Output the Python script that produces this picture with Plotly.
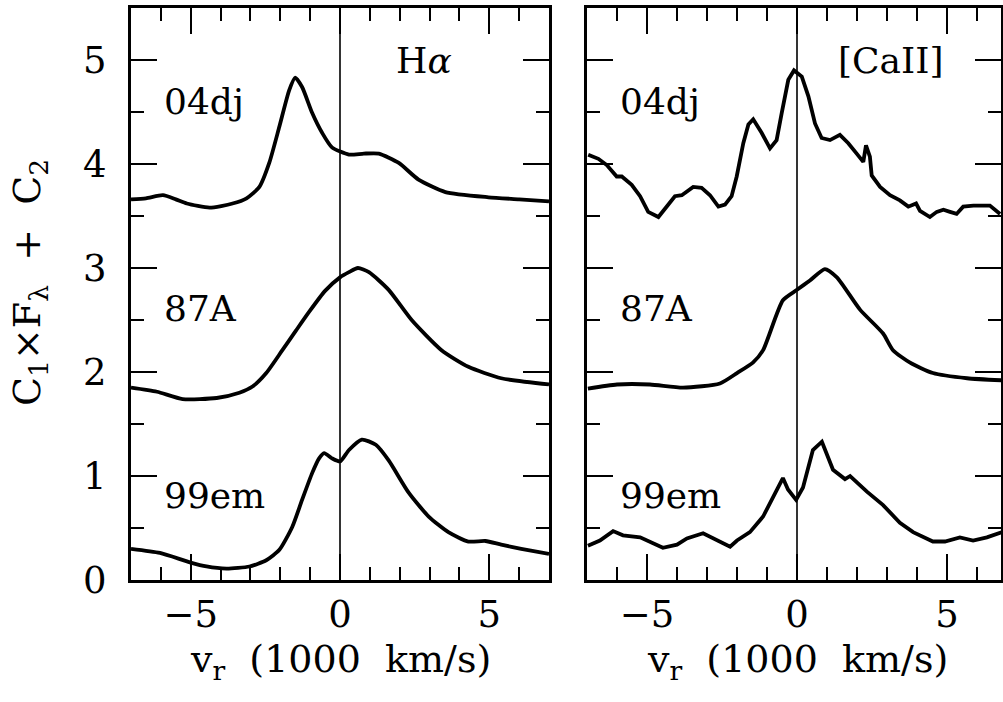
import plotly.graph_objects as go

# ---------------- data ----------------
ha_v_04dj = [-7, -6.5, -5.93, -5.5, -5.13, -4.37, -3.6, -3.13, -2.7, -2.37, -2.03, -1.7, -1.5,
             -1.27, -0.93, -0.6, -0.27, 0.3, 0.8, 1.3, 1.97, 2.63, 3.53, 4.97, 6.0, 7.0]
ha_f_04dj = [3.66, 3.67, 3.70, 3.66, 3.62, 3.58, 3.62, 3.67, 3.78, 4.01, 4.36, 4.71, 4.83,
             4.74, 4.49, 4.30, 4.16, 4.09, 4.10, 4.10, 4.01, 3.85, 3.73, 3.68, 3.66, 3.64]

ha_v_87A = [-7, -6.13, -5.27, -4.13, -3.37, -2.93, -2.47, -1.93, -1.47, -1.03, -0.5, 0.0,
            0.3, 0.6, 0.97, 1.63, 2.4, 3.4, 4.3, 5.4, 7.0]
ha_f_87A = [1.85, 1.81, 1.74, 1.75, 1.80, 1.86, 1.99, 2.21, 2.40, 2.58, 2.78, 2.91,
            2.96, 3.00, 2.96, 2.79, 2.50, 2.21, 2.05, 1.94, 1.88]

ha_v_99em = [-7, -6.03, -5.03, -4.47, -3.8, -3.03, -2.47, -2.03, -1.6, -1.27, -0.93, -0.7,
             -0.53, -0.27, 0.0, 0.3, 0.73, 1.2, 1.63, 2.3, 2.97, 3.63, 4.3, 4.87, 5.4, 6.07, 7.0]
ha_f_99em = [0.30, 0.26, 0.17, 0.13, 0.11, 0.13, 0.19, 0.29, 0.51, 0.77, 1.03, 1.17,
             1.22, 1.17, 1.14, 1.25, 1.35, 1.30, 1.15, 0.84, 0.61, 0.46, 0.37, 0.375, 0.34, 0.30, 0.25]

ca_v_04dj = [-6.96, -6.62, -6.34, -6.01, -5.84, -5.51, -5.23, -4.96, -4.62, -4.34, -4.07, -3.84,
             -3.68, -3.46, -3.18, -2.9, -2.62, -2.4, -2.18, -2.01, -1.79, -1.62, -1.46, -1.18,
             -0.9, -0.68, -0.51, -0.29, -0.1, 0.16, 0.38, 0.6, 0.82, 1.1, 1.43, 1.71, 1.99,
             2.21, 2.3, 2.43, 2.49, 2.77, 3.1, 3.43, 3.71, 3.97, 4.1, 4.43, 4.66, 4.88, 5.1,
             5.32, 5.54, 5.88, 6.43, 6.77]
ca_f_04dj = [4.09, 4.05, 3.99, 3.88, 3.88, 3.80, 3.69, 3.54, 3.49, 3.59, 3.69, 3.70,
             3.73, 3.78, 3.77, 3.70, 3.59, 3.61, 3.69, 3.88, 4.20, 4.38, 4.43, 4.30,
             4.15, 4.23, 4.49, 4.81, 4.90, 4.84, 4.65, 4.39, 4.25, 4.23, 4.28, 4.20, 4.10,
             4.02, 4.18, 4.07, 3.89, 3.78, 3.70, 3.65, 3.59, 3.62, 3.55, 3.49, 3.54, 3.56, 3.54,
             3.52, 3.59, 3.60, 3.60, 3.52]

ca_v_87A = [-6.97, -6.0, -4.9, -3.8, -2.57, -2.0, -1.47, -1.13, -0.47, 0.0, 0.43, 0.93,
            1.33, 2.1, 2.87, 3.2, 3.77, 4.53, 5.67, 6.83]
ca_f_87A = [1.84, 1.88, 1.88, 1.85, 1.89, 1.99, 2.09, 2.21, 2.69, 2.79, 2.88, 2.99,
            2.91, 2.60, 2.37, 2.21, 2.09, 1.99, 1.94, 1.92]

ca_v_99em = [-6.97, -6.57, -6.13, -5.8, -5.23, -4.9, -4.47, -4.0, -3.67, -3.13, -2.67, -2.23,
             -2.0, -1.57, -1.13, -0.8, -0.47, -0.3, -0.03, 0.2, 0.53, 0.83, 1.2, 1.6, 1.77,
             2.33, 2.87, 3.43, 3.87, 4.53, 4.93, 5.43, 5.87, 6.33, 6.83]
ca_f_99em = [0.33, 0.38, 0.47, 0.43, 0.41, 0.37, 0.31, 0.34, 0.40, 0.45, 0.38, 0.32,
             0.38, 0.46, 0.61, 0.80, 0.98, 0.87, 0.77, 0.89, 1.25, 1.33, 1.06, 0.97, 1.00,
             0.85, 0.72, 0.55, 0.46, 0.37, 0.37, 0.41, 0.38, 0.41, 0.46]

sn_names = ["04dj", "87A", "99em"]
sn_label_y = [4.6, 2.61, 0.81]
panel_titles = ["H<i>α</i>", "[CaII]"]
x_tick_vals = [-5, 0, 5]
y_tick_vals = [0, 1, 2, 3, 4, 5]

# ---------------- figure ----------------
FONT = "DejaVu Serif"
W, H = 1003, 702
LW = 3.8

fig = go.Figure()

def add_line(x, y, xa, ya, shape):
    fig.add_trace(go.Scatter(x=x, y=y, mode="lines", xaxis=xa, yaxis=ya,
                             line=dict(color="black", width=LW, shape=shape, smoothing=0.6),
                             showlegend=False, hoverinfo="skip"))

add_line(ha_v_04dj, ha_f_04dj, "x", "y", "spline")
add_line(ha_v_87A, ha_f_87A, "x", "y", "spline")
add_line(ha_v_99em, ha_f_99em, "x", "y", "spline")
add_line(ca_v_04dj, ca_f_04dj, "x2", "y2", "linear")
add_line(ca_v_87A, ca_f_87A, "x2", "y2", "spline")
add_line(ca_v_99em, ca_f_99em, "x2", "y2", "linear")

def px2paper_x(p):
    return p / W

def px2paper_y(p):
    return 1 - p / H

xdom1 = [px2paper_x(131), px2paper_x(549)]
xdom2 = [px2paper_x(587), px2paper_x(1001)]
ydom = [px2paper_y(580), px2paper_y(8)]

tickfont = dict(family=FONT, size=37, color="black")

def axis_common():
    return dict(showgrid=False, zeroline=False, showline=True, linecolor="black",
                linewidth=3, mirror="ticks", ticks="inside", ticklen=26, tickwidth=2,
                tickcolor="black", tickfont=tickfont, automargin=False, layer="above traces")

def minor_ticks(step):
    return dict(dtick=step, tick0=0, ticks="inside", ticklen=13, tickwidth=2,
                tickcolor="black", showgrid=False)

xa1 = dict(axis_common(), domain=xdom1, range=[-7, 7], anchor="y", tickvals=x_tick_vals,
           ticklabelstandoff=0, minor=minor_ticks(1))
xa2 = dict(axis_common(), domain=xdom2, range=[-7, 6.8], anchor="y2", tickvals=x_tick_vals,
           ticklabelstandoff=0, minor=minor_ticks(1))
ya1 = dict(axis_common(), domain=ydom, range=[0, 5.5], anchor="x", tickvals=y_tick_vals,
           ticklabelstandoff=14, minor=minor_ticks(0.5))
ya2 = dict(axis_common(), domain=ydom, range=[0, 5.5], anchor="x2", tickvals=y_tick_vals,
           showticklabels=False, minor=minor_ticks(0.5))

fig.update_layout(
    template="none",
    width=W, height=H, autosize=False, showlegend=False,
    margin=dict(l=0, r=0, t=0, b=0, pad=0, autoexpand=False),
    paper_bgcolor="white", plot_bgcolor="white",
    xaxis=xa1, yaxis=ya1, xaxis2=xa2, yaxis2=ya2,
)

for xr, yr in [("x", "y"), ("x2", "y2")]:
    fig.add_shape(type="line", xref=xr, yref=yr, x0=0, x1=0, y0=0, y1=5.5,
                  line=dict(color="black", width=1.6), layer="above")

lab_font = dict(family=FONT, size=36, color="black")
for xr, yr in [("x", "y"), ("x2", "y2")]:
    for name, yy in zip(sn_names, sn_label_y):
        fig.add_annotation(x=-5.97, y=yy, xref=xr, yref=yr, text=name, showarrow=False,
                           xanchor="left", yanchor="middle", font=lab_font)

fig.add_annotation(x=2.8, y=5.0, xref="x", yref="y", text=panel_titles[0], showarrow=False,
                   xanchor="center", yanchor="middle", font=lab_font)
fig.add_annotation(x=3.13, y=5.0, xref="x2", yref="y2", text=panel_titles[1], showarrow=False,
                   xanchor="center", yanchor="middle", font=lab_font)

title_font = dict(family=FONT, size=38, color="black")
xtitle = "v<sub>r</sub>\u00a0\u00a0(1000\u00a0\u00a0km/s)"
fig.add_annotation(x=px2paper_x(340), y=px2paper_y(661), xref="paper", yref="paper",
                   text=xtitle, showarrow=False, xanchor="center", yanchor="middle",
                   font=title_font)
fig.add_annotation(x=px2paper_x(797), y=px2paper_y(661), xref="paper", yref="paper",
                   text=xtitle, showarrow=False, xanchor="center", yanchor="middle",
                   font=title_font)
fig.add_annotation(x=px2paper_x(29), y=px2paper_y(283), xref="paper", yref="paper",
                   text="C<sub>1</sub>×F<sub>λ</sub>\u00a0\u00a0+\u00a0\u00a0C<sub>2</sub>",
                   textangle=-90, showarrow=False, xanchor="center", yanchor="middle",
                   font=title_font)

fig.write_html("out.html", config={"responsive": False})
